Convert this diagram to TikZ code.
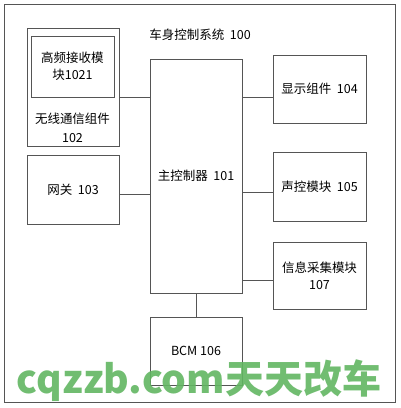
\documentclass[tikz,border=0pt]{standalone}
\usepackage{fontspec}
\setmainfont{Noto Sans CJK SC}
\usetikzlibrary{positioning}
\definecolor{boxgray}{RGB}{85,85,85}
\definecolor{markgreen}{RGB}{98,182,98}

\begin{document}
\begin{tikzpicture}[x=1pt, y=-1pt,
    blockbox/.style={draw=boxgray, line width=0.9pt, inner sep=0pt, align=center, font=\fontsize{12.5}{17}\selectfont},
    wire/.style={draw=boxgray, line width=0.9pt}]
    \useasboundingbox (0,0) rectangle (400,408);
    % nodes
    \node[blockbox, minimum width=391, minimum height=398] (sys)  at (199.5,203) {};
    \node[font=\fontsize{12.5}{17}\selectfont] (title) at (200,35) {车身控制系统\ \ 100};
    \node[blockbox, minimum width=92, minimum height=118]  (wl)   at (73,87)     {};
    \node[blockbox, minimum width=83, minimum height=61]   (hf)   at (72.5,66.5) {高频接收模\\块1021};
    \node[font=\fontsize{12.5}{19}\selectfont, align=center, inner sep=0pt] (wltext) [below=15pt of hf] {无线通信组件\\102};
    \node[blockbox, minimum width=92, minimum height=69]   (gw)   at (73,189.5)  {网关\ \ 103};
    \node[blockbox, minimum width=92, minimum height=234]  (main) at (196,176)   {主控制器\ \ 101};
    \node[blockbox, minimum width=93, minimum height=68]   (disp) at (319.5,89)  {显示组件\ \ 104};
    \node[blockbox, minimum width=93, minimum height=69]   (voice) at (319.5,186.5) {声控模块\ \ 105};
    \node[blockbox, minimum width=93, minimum height=67]   (info) at (319.5,275.5) {信息采集模块\\107};
    \node[blockbox, minimum width=92, minimum height=68]   (bcm)  at (196,351)   {BCM 106};
    % lines
    \draw[wire] (wl.east |- hf.south) -- (main.west |- hf.south);
    \draw[wire] ([yshift=-4.5pt]gw.east) -- ([yshift=-4.5pt]gw.east -| main.west);
    \draw[wire] (main.east |- hf.south) -- (disp.west |- hf.south);
    \draw[wire] ([yshift=-5.5pt]voice.west) -- ([yshift=-5.5pt]voice.west -| main.east);
    \draw[wire] ([yshift=-4.5pt]info.west) -- ([yshift=-4.5pt]info.west -| main.east);
    \draw[wire] (main.south) -- (bcm.north);
    % watermark
    \node[text=markgreen, opacity=0.9, font=\fontsize{39}{39}\bfseries\selectfont, inner sep=0pt] (mark) at (199,381) {cqzzb.com天天改车};
\end{tikzpicture}
\end{document}
